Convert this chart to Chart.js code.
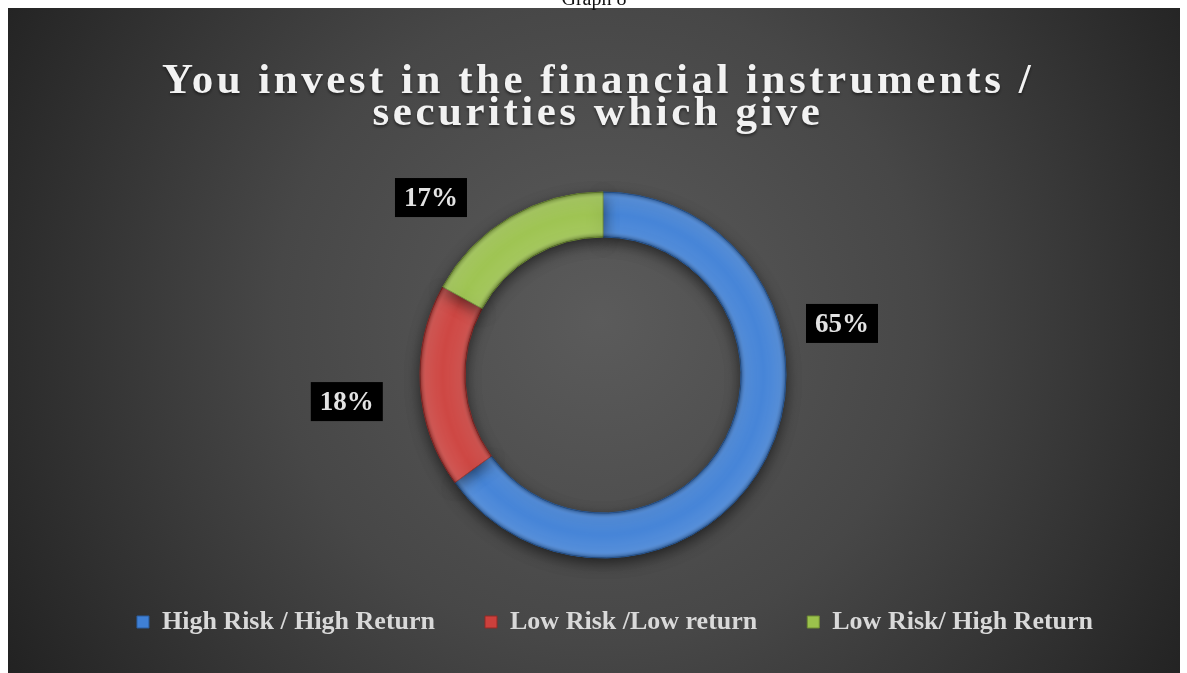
<!DOCTYPE html>
<html>
<head>
<meta charset="utf-8">
<script src="https://cdn.jsdelivr.net/npm/chart.js@4/dist/chart.umd.min.js"></script>
<style>
  html, body { margin: 0; padding: 0; background: #ffffff; }
  canvas { display: block; }
</style>
</head>
<body>
<canvas id="c" width="1187" height="673"></canvas>
<script>
// Survey answers: which kind of instruments the respondents invest in
const categories = ['High Risk / High Return', 'Low Risk /Low return', 'Low Risk/ High Return'];
const shares = [65, 18, 17];
const titleLines = ['You invest in the financial instruments /', 'securities which give'];
const caption = 'Graph 8';

const sliceColors = ['#3f80d6', '#cc403c', '#9bc24c'];
const sliceEdges = ['#2a5d9f', '#8f2a27', '#6f8d33'];
const serif = '"Liberation Serif", "DejaVu Serif", serif';

// Page background, dark panel, caption and the two-line heading
const panelPlugin = {
  id: 'panel',
  beforeDraw(chart) {
    const ctx = chart.ctx;
    ctx.save();
    ctx.fillStyle = '#ffffff';
    ctx.fillRect(0, 0, chart.width, chart.height);
    const g = ctx.createRadialGradient(600, 320, 0, 600, 320, 720);
    g.addColorStop(0, '#5b5b5b');
    g.addColorStop(0.45, '#474747');
    g.addColorStop(1, '#1f1f1f');
    ctx.fillStyle = g;
    ctx.fillRect(8, 8, 1172, 665);
    ctx.fillStyle = '#111111';
    ctx.font = '20px ' + serif;
    ctx.textAlign = 'center';
    ctx.textBaseline = 'alphabetic';
    ctx.fillText(caption, 594, 5);
    ctx.fillStyle = '#f2f2f2';
    ctx.font = 'bold 43px ' + serif;
    ctx.letterSpacing = '3.5px';
    ctx.shadowColor = 'rgba(0,0,0,0.5)';
    ctx.shadowBlur = 3;
    ctx.shadowOffsetY = 2;
    ctx.fillText(titleLines[0], 598, 93);
    ctx.fillText(titleLines[1], 598, 125);
    ctx.restore();
  },
  // nudge the legend row slightly right of the ring's centre line
  afterLayout(chart) {
    if (chart.legend) {
      chart.legend.left += 12;
      chart.legend.right += 12;
    }
  }
};

// Soft drop shadow under the ring and a bevel-like sheen on each slice
const ringPlugin = {
  id: 'ring',
  beforeDatasetsDraw(chart) {
    const ctx = chart.ctx;
    ctx.save();
    ctx.shadowColor = 'rgba(0,0,0,0.55)';
    ctx.shadowBlur = 14;
    ctx.shadowOffsetY = 5;
  },
  afterDatasetsDraw(chart) {
    const ctx = chart.ctx;
    ctx.restore();
    chart.getDatasetMeta(0).data.forEach(arc => {
      const p = arc.getProps(['x', 'y', 'startAngle', 'endAngle', 'innerRadius', 'outerRadius']);
      ctx.save();
      ctx.beginPath();
      ctx.arc(p.x, p.y, p.outerRadius, p.startAngle, p.endAngle);
      ctx.arc(p.x, p.y, p.innerRadius, p.endAngle, p.startAngle, true);
      ctx.closePath();
      ctx.clip();
      const g = ctx.createRadialGradient(p.x, p.y, p.innerRadius, p.x, p.y, p.outerRadius);
      g.addColorStop(0, 'rgba(0,0,0,0.30)');
      g.addColorStop(0.12, 'rgba(255,255,255,0.10)');
      g.addColorStop(0.5, 'rgba(255,255,255,0.04)');
      g.addColorStop(0.88, 'rgba(255,255,255,0.12)');
      g.addColorStop(1, 'rgba(0,0,0,0.30)');
      ctx.fillStyle = g;
      ctx.fillRect(p.x - p.outerRadius, p.y - p.outerRadius, p.outerRadius * 2, p.outerRadius * 2);
      ctx.restore();
    });
  }
};

// Percentage tags in black boxes, placed around the ring (offsets in outer radii)
const tagOffsets = [[1.306, -0.279], [-1.40, 0.148], [-0.94, -0.967]];
const tagPlugin = {
  id: 'tags',
  afterDraw(chart) {
    const ctx = chart.ctx;
    const meta = chart.getDatasetMeta(0);
    ctx.save();
    ctx.font = 'bold 27px ' + serif;
    ctx.textAlign = 'center';
    ctx.textBaseline = 'middle';
    meta.data.forEach((arc, i) => {
      const p = arc.getProps(['x', 'y', 'outerRadius']);
      const cx = p.x + tagOffsets[i][0] * p.outerRadius;
      const cy = p.y + tagOffsets[i][1] * p.outerRadius;
      ctx.fillStyle = '#000000';
      ctx.fillRect(cx - 36, cy - 20, 72, 39);
      ctx.fillStyle = '#e3e3e3';
      ctx.fillText(chart.data.datasets[0].data[i] + '%', cx, cy + 1);
    });
    ctx.restore();
  }
};

new Chart(document.getElementById('c'), {
  type: 'doughnut',
  data: {
    labels: categories,
    datasets: [{
      data: shares,
      backgroundColor: sliceColors,
      borderColor: sliceEdges,
      borderWidth: 1,
      radius: 183,
      cutout: '75.4%'
    }]
  },
  options: {
    responsive: false,
    animation: false,
    rotation: 0,
    layout: { padding: { top: 191, bottom: 28, left: 19, right: 0 } },
    plugins: {
      title: { display: false },
      tooltip: { enabled: false },
      legend: {
        position: 'bottom',
        labels: {
          color: '#d9d9d9',
          font: { family: serif, size: 26, weight: 'bold' },
          boxWidth: 12,
          boxHeight: 12,
          padding: 50
        }
      }
    }
  },
  plugins: [panelPlugin, ringPlugin, tagPlugin]
});
</script>
</body>
</html>
